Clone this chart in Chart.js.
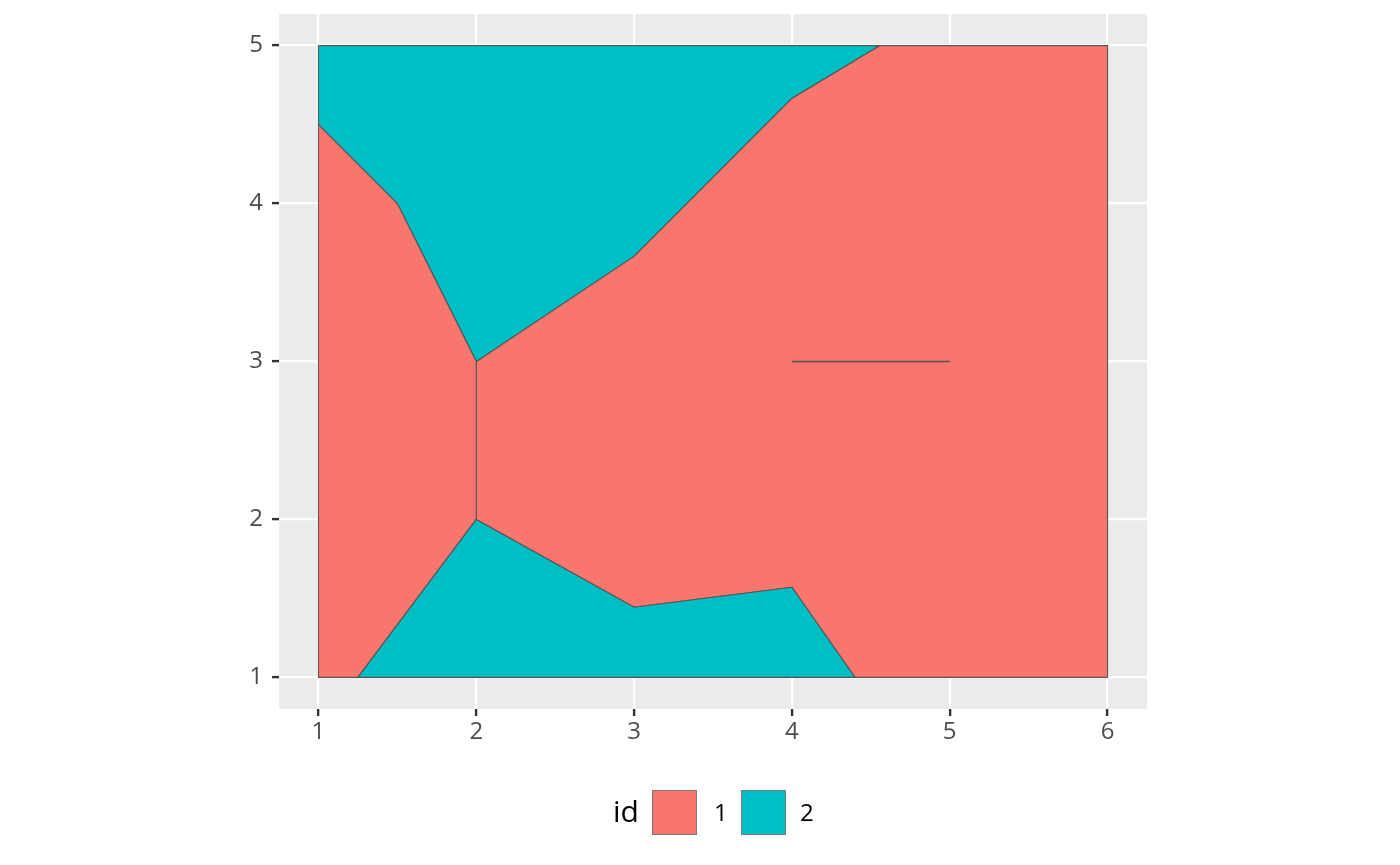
<!DOCTYPE html>
<html>
<head>
<meta charset="utf-8">
<script src="https://cdn.jsdelivr.net/npm/chart.js@4"></script>
<style>
html,body{margin:0;padding:0;background:#fff;}
#wrap{position:relative;width:1400px;height:865px;}
canvas{position:absolute;left:0;top:0;}
.lg{position:absolute;font-family:"Open Sans",sans-serif;white-space:nowrap;}
.sw{position:absolute;box-sizing:border-box;width:45px;height:45px;border:1px solid #7a7a7a;}
</style>
</head>
<body>
<div id="wrap">
<canvas id="c" width="1400" height="865"></canvas>
<div class="lg" style="left:613px;top:796px;font-size:30px;line-height:30px;color:#000;">id</div>
<div class="sw" style="left:652px;top:790px;background:#F8766D;"></div>
<div class="lg" style="left:714px;top:800px;font-size:24px;line-height:24px;color:#000;">1</div>
<div class="sw" style="left:741px;top:790px;background:#00BFC4;"></div>
<div class="lg" style="left:800px;top:800px;font-size:24px;line-height:24px;color:#000;">2</div>
</div>
<script>
const xTicks = [1, 2, 3, 4, 5, 6];
const yTicks = [1, 2, 3, 4, 5];

const redMainX = [2, 3, 4, 4.556, 6, 6, 4.4, 4, 3, 2, 2];
const redMainY = [3, 3.667, 4.667, 5, 5, 1, 1, 1.571, 1.444, 2, 3];

const tealTopX = [1, 1, 1.5, 2, 3, 4, 4.556, 1];
const tealTopY = [5, 4.5, 4, 3, 3.667, 4.667, 5, 5];

const redLeftX = [1, 1.5, 2, 2, 1.25, 1, 1];
const redLeftY = [4.5, 4, 3, 2, 1, 1, 4.5];

const tealBottomX = [1.25, 2, 3, 4, 4.4, 1.25];
const tealBottomY = [1, 2, 1.444, 1.571, 1, 1];

const segX = [4, 5];
const segY = [3, 3];

const RED = '#F8766D', TEAL = '#00BFC4', EDGE = '#555555';

function pts(xs, ys){ return xs.map((x,i)=>({x:x, y:ys[i]})); }
function poly(xs, ys, col, ord){
  return {data: pts(xs, ys), showLine: true, fill: 'shape', backgroundColor: col, order: ord,
          borderColor: EDGE, borderWidth: 1.1, pointRadius: 0, tension: 0, borderJoinStyle: 'miter'};
}

const panelBg = {
  id: 'panelBg',
  beforeDraw(chart){
    const a = chart.chartArea, ctx = chart.ctx;
    ctx.save(); ctx.fillStyle = '#EBEBEB';
    ctx.fillRect(a.left, a.top, a.right - a.left, a.bottom - a.top);
    ctx.restore();
  }
};

new Chart(document.getElementById('c'), {
  type: 'scatter',
  data: { datasets: [
    poly(redMainX, redMainY, RED, 5),
    poly(tealTopX, tealTopY, TEAL, 4),
    poly(redLeftX, redLeftY, RED, 3),
    poly(tealBottomX, tealBottomY, TEAL, 2),
    {data: pts(segX, segY), showLine: true, fill: false, order: 1, borderColor: '#505050', backgroundColor: '#505050', borderWidth: 1.6, pointRadius: 0}
  ]},
  options: {
    responsive: false, animation: false, devicePixelRatio: 1,
    layout: {padding: {top: 14, right: 253, left: 0, bottom: 0}},
    plugins: {legend: {display: false}, tooltip: {enabled: false}},
    scales: {
      x: {
        type: 'linear', min: 0.75, max: 6.25,
        afterBuildTicks(s){ s.ticks = xTicks.map(v=>({value:v})); },
        afterFit(s){ s.height = 156; s.paddingLeft = 0; s.paddingRight = 0; },
        border: {display: false},
        grid: {color: '#FFFFFF', lineWidth: 2.2, tickColor: '#333333', tickLength: 7, tickWidth: 2.4, drawTicks: true},
        ticks: {color: '#4D4D4D', font: {family: 'Open Sans', size: 24}, padding: 2, maxRotation: 0, autoSkip: false}
      },
      y: {
        type: 'linear', min: 0.8, max: 5.2,
        afterBuildTicks(s){ s.ticks = yTicks.map(v=>({value:v})); },
        afterFit(s){ s.width = 279; s.paddingTop = 0; s.paddingBottom = 0; },
        border: {display: false},
        grid: {color: '#FFFFFF', lineWidth: 2.2, tickColor: '#333333', tickLength: 7, tickWidth: 2.4, drawTicks: true},
        ticks: {color: '#4D4D4D', font: {family: 'Open Sans', size: 24}, padding: 9, autoSkip: false}
      }
    }
  },
  plugins: [panelBg]
});
</script>
</body>
</html>
